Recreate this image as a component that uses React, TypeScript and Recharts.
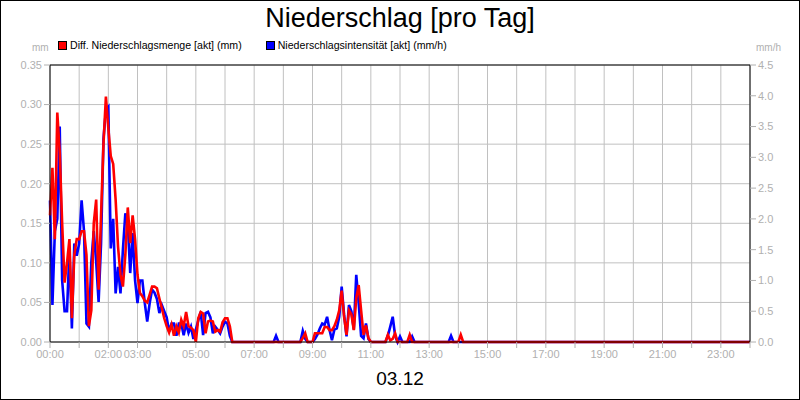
import { LineChart, Line, XAxis, YAxis, CartesianGrid, ReferenceLine } from 'recharts';

// minutes since 00:00 (5-min samples while it rains, only endpoints of dry spells)
const minutes = [
  0, 5, 10, 15, 20, 25, 30, 35, 40, 45, 50, 55,
  60, 65, 70, 75, 80, 85, 90, 95, 100, 105, 110, 115,
  120, 125, 130, 135, 140, 145, 150, 155, 160, 165, 170, 175,
  180, 185, 190, 195, 200, 205, 210, 215, 220, 225, 230, 235,
  240, 245, 250, 255, 260, 265, 270, 275, 280, 285, 290, 295,
  300, 305, 310, 315, 320, 325, 330, 335, 340, 345, 350, 355,
  360, 365, 370, 375,
  460, 465, 470,
  515, 520, 525, 530,
  540, 545, 550, 555, 560, 565, 570, 575, 580, 585, 590, 595,
  600, 605, 610, 615, 620, 625, 630, 635, 640, 645, 650, 655, 660,
  690, 695, 700, 705, 710, 715, 720, 725,
  735, 740, 745, 750,
  820, 825, 830,
  840, 845, 850,
  1440,
];

// Diff. Niederschlagsmenge [akt] (mm)
const menge = [
  0.16, 0.22, 0.13, 0.29, 0.24, 0.15, 0.075, 0.1, 0.13, 0.03, 0.11, 0.13,
  0.13, 0.14, 0.14, 0.11, 0.02, 0.04, 0.15, 0.18, 0.066, 0.16, 0.25, 0.31,
  0.27, 0.235, 0.225, 0.18, 0.12, 0.085, 0.07, 0.11, 0.17, 0.125, 0.16, 0.13,
  0.085, 0.062, 0.058, 0.052, 0.05, 0.06, 0.07, 0.07, 0.068, 0.055, 0.043, 0.03,
  0.02, 0.012, 0.022, 0.008, 0.02, 0.012, 0.028, 0.02, 0.038, 0.02, 0.018, 0.015,
  0.0, 0.03, 0.038, 0.036, 0.011, 0.026, 0.027, 0.026, 0.013, 0.015, 0.013, 0.025,
  0.03, 0.03, 0.02, 0,
  0, 0, 0,
  0, 0.005, 0.011, 0,
  0, 0.011, 0.011, 0.011, 0.011, 0.019, 0.019, 0.015, 0.015, 0.02, 0.028, 0.04,
  0.065, 0.032, 0.009, 0.04, 0.035, 0.015, 0.055, 0.072, 0.04, 0.009, 0.021, 0.005, 0,
  0, 0.009, 0.002, 0.004, 0.011, 0, 0, 0,
  0, 0.009, 0, 0,
  0, 0, 0,
  0, 0.009, 0,
  0,
];

// Niederschlagsintensität [akt] (mm/h)
const intensitaet = [
  2.3, 0.6, 1.8, 2.0, 3.5, 1.0, 0.5, 0.5, 1.5, 0.22, 1.6, 1.4,
  1.6, 2.3, 1.8, 0.3, 0.25, 1.3, 1.8, 1.3, 0.65, 1.6, 3.3, 3.77,
  3.82, 1.52, 2.0, 0.79, 1.22, 0.79, 1.5, 2.09, 1.93, 1.12, 1.77, 1.0,
  0.63, 1.0, 1.0, 0.63, 0.33, 0.63, 0.85, 0.8, 0.7, 0.47, 0.6, 0.5,
  0.4, 0.17, 0.3, 0.3, 0.1, 0.3, 0.3, 0.11, 0.3, 0.15, 0.25, 0.05,
  0.2, 0.35, 0.49, 0.11, 0.47, 0.49, 0.4, 0.14, 0.25, 0.2, 0.14, 0.25,
  0.33, 0.3, 0.1, 0,
  0, 0.1, 0,
  0, 0.18, 0.05, 0,
  0, 0.05, 0.12, 0.22, 0.3, 0.28, 0.41, 0.2, 0.03, 0.2, 0.22, 0.41,
  0.9, 0.44, 0.09, 0.6, 0.5, 0.2, 1.09, 0.63, 0.1, 0.06, 0.3, 0.05, 0,
  0, 0.1, 0.25, 0.41, 0.1, 0, 0.09, 0,
  0, 0, 0.09, 0,
  0, 0.1, 0,
  0, 0, 0,
  0,
];

const hourLabels = [
  '00:00', '', '02:00', '03:00', '', '05:00', '', '07:00', '', '09:00', '', '11:00',
  '', '13:00', '', '15:00', '', '17:00', '', '19:00', '', '21:00', '', '23:00', '',
];
const mmTicks = [0, 0.05, 0.1, 0.15, 0.2, 0.25, 0.3, 0.35];
const mmhTicks = [0, 0.5, 1, 1.5, 2, 2.5, 3, 3.5, 4, 4.5];

const data = minutes.map((t, i) => ({ t, menge: menge[i], intens: intensitaet[i] }));
const hourTicks = hourLabels.map((_, i) => i * 60);

const font = "'Liberation Sans', Arial, sans-serif";
const grey = '#b0b0b0';
const tickStyle = { fontSize: 11, fill: grey, fontFamily: font };

function LegendItem({ color, label }: { color: string; label: string }) {
  return (
    <span style={{ display: 'inline-flex', alignItems: 'center', marginRight: 24 }}>
      <span
        style={{
          width: 7,
          height: 7,
          background: color,
          border: '1px solid #000',
          marginRight: 3,
        }}
      />
      {label}
    </span>
  );
}

export default function App() {
  return (
    <div
      style={{
        position: 'absolute',
        left: 0,
        top: 0,
        width: 800,
        height: 400,
        background: '#fff',
        fontFamily: font,
      }}
    >
      <div
        style={{
          position: 'absolute',
          top: 2,
          width: 800,
          textAlign: 'center',
          fontSize: 27,
          lineHeight: '32px',
        }}
      >
        Niederschlag [pro Tag]
      </div>
      <div
        style={{
          position: 'absolute',
          top: 38,
          left: 58,
          fontSize: 10.6,
          lineHeight: '14px',
          display: 'flex',
        }}
      >
        <LegendItem color="#ff0000" label="Diff. Niederschlagsmenge [akt] (mm)" />
        <LegendItem color="#0000ff" label="Niederschlagsintensität [akt] (mm/h)" />
      </div>
      <div style={{ position: 'absolute', top: 42, left: 32, fontSize: 10, color: grey }}>mm</div>
      <div style={{ position: 'absolute', top: 42, left: 756, fontSize: 10, color: grey }}>mm/h</div>

      <LineChart
        width={800}
        height={400}
        data={data}
        margin={{ top: 65, right: 0, bottom: 0, left: 0 }}
      >
        <CartesianGrid stroke="#c0c0c0" yAxisId="left" />
        <XAxis
          dataKey="t"
          type="number"
          domain={[0, 1440]}
          ticks={hourTicks}
          interval={0}
          tickFormatter={(v: number) => hourLabels[v / 60] ?? ''}
          height={58}
          tick={tickStyle}
          tickLine={{ stroke: grey }}
          axisLine={{ stroke: '#000' }}
          tickSize={6}
        />
        <YAxis
          yAxisId="left"
          domain={[0, 0.35]}
          ticks={mmTicks}
          tickFormatter={(v: number) => v.toFixed(2)}
          width={50}
          tick={tickStyle}
          tickLine={{ stroke: grey }}
          axisLine={{ stroke: '#000' }}
          tickSize={6}
        />
        <YAxis
          yAxisId="right"
          orientation="right"
          domain={[0, 4.5]}
          ticks={mmhTicks}
          tickFormatter={(v: number) => v.toFixed(1)}
          width={50}
          tick={tickStyle}
          tickLine={{ stroke: grey }}
          axisLine={{ stroke: '#000' }}
          tickSize={6}
        />
        <ReferenceLine yAxisId="left" y={0.35} stroke="#000" />
        <Line
          yAxisId="right"
          dataKey="intens"
          type="linear"
          stroke="#0000ff"
          strokeWidth={2.6}
          dot={false}
          isAnimationActive={false}
        />
        <Line
          yAxisId="left"
          dataKey="menge"
          type="linear"
          stroke="#ff0000"
          strokeWidth={2.6}
          dot={false}
          isAnimationActive={false}
        />
      </LineChart>

      <div
        style={{
          position: 'absolute',
          top: 367,
          width: 800,
          textAlign: 'center',
          fontSize: 19,
          lineHeight: '24px',
        }}
      >
        03.12
      </div>
      <div
        style={{
          position: 'absolute',
          left: 0,
          top: 0,
          width: 800,
          height: 400,
          boxSizing: 'border-box',
          border: '1px solid #000',
          pointerEvents: 'none',
        }}
      />
    </div>
  );
}
